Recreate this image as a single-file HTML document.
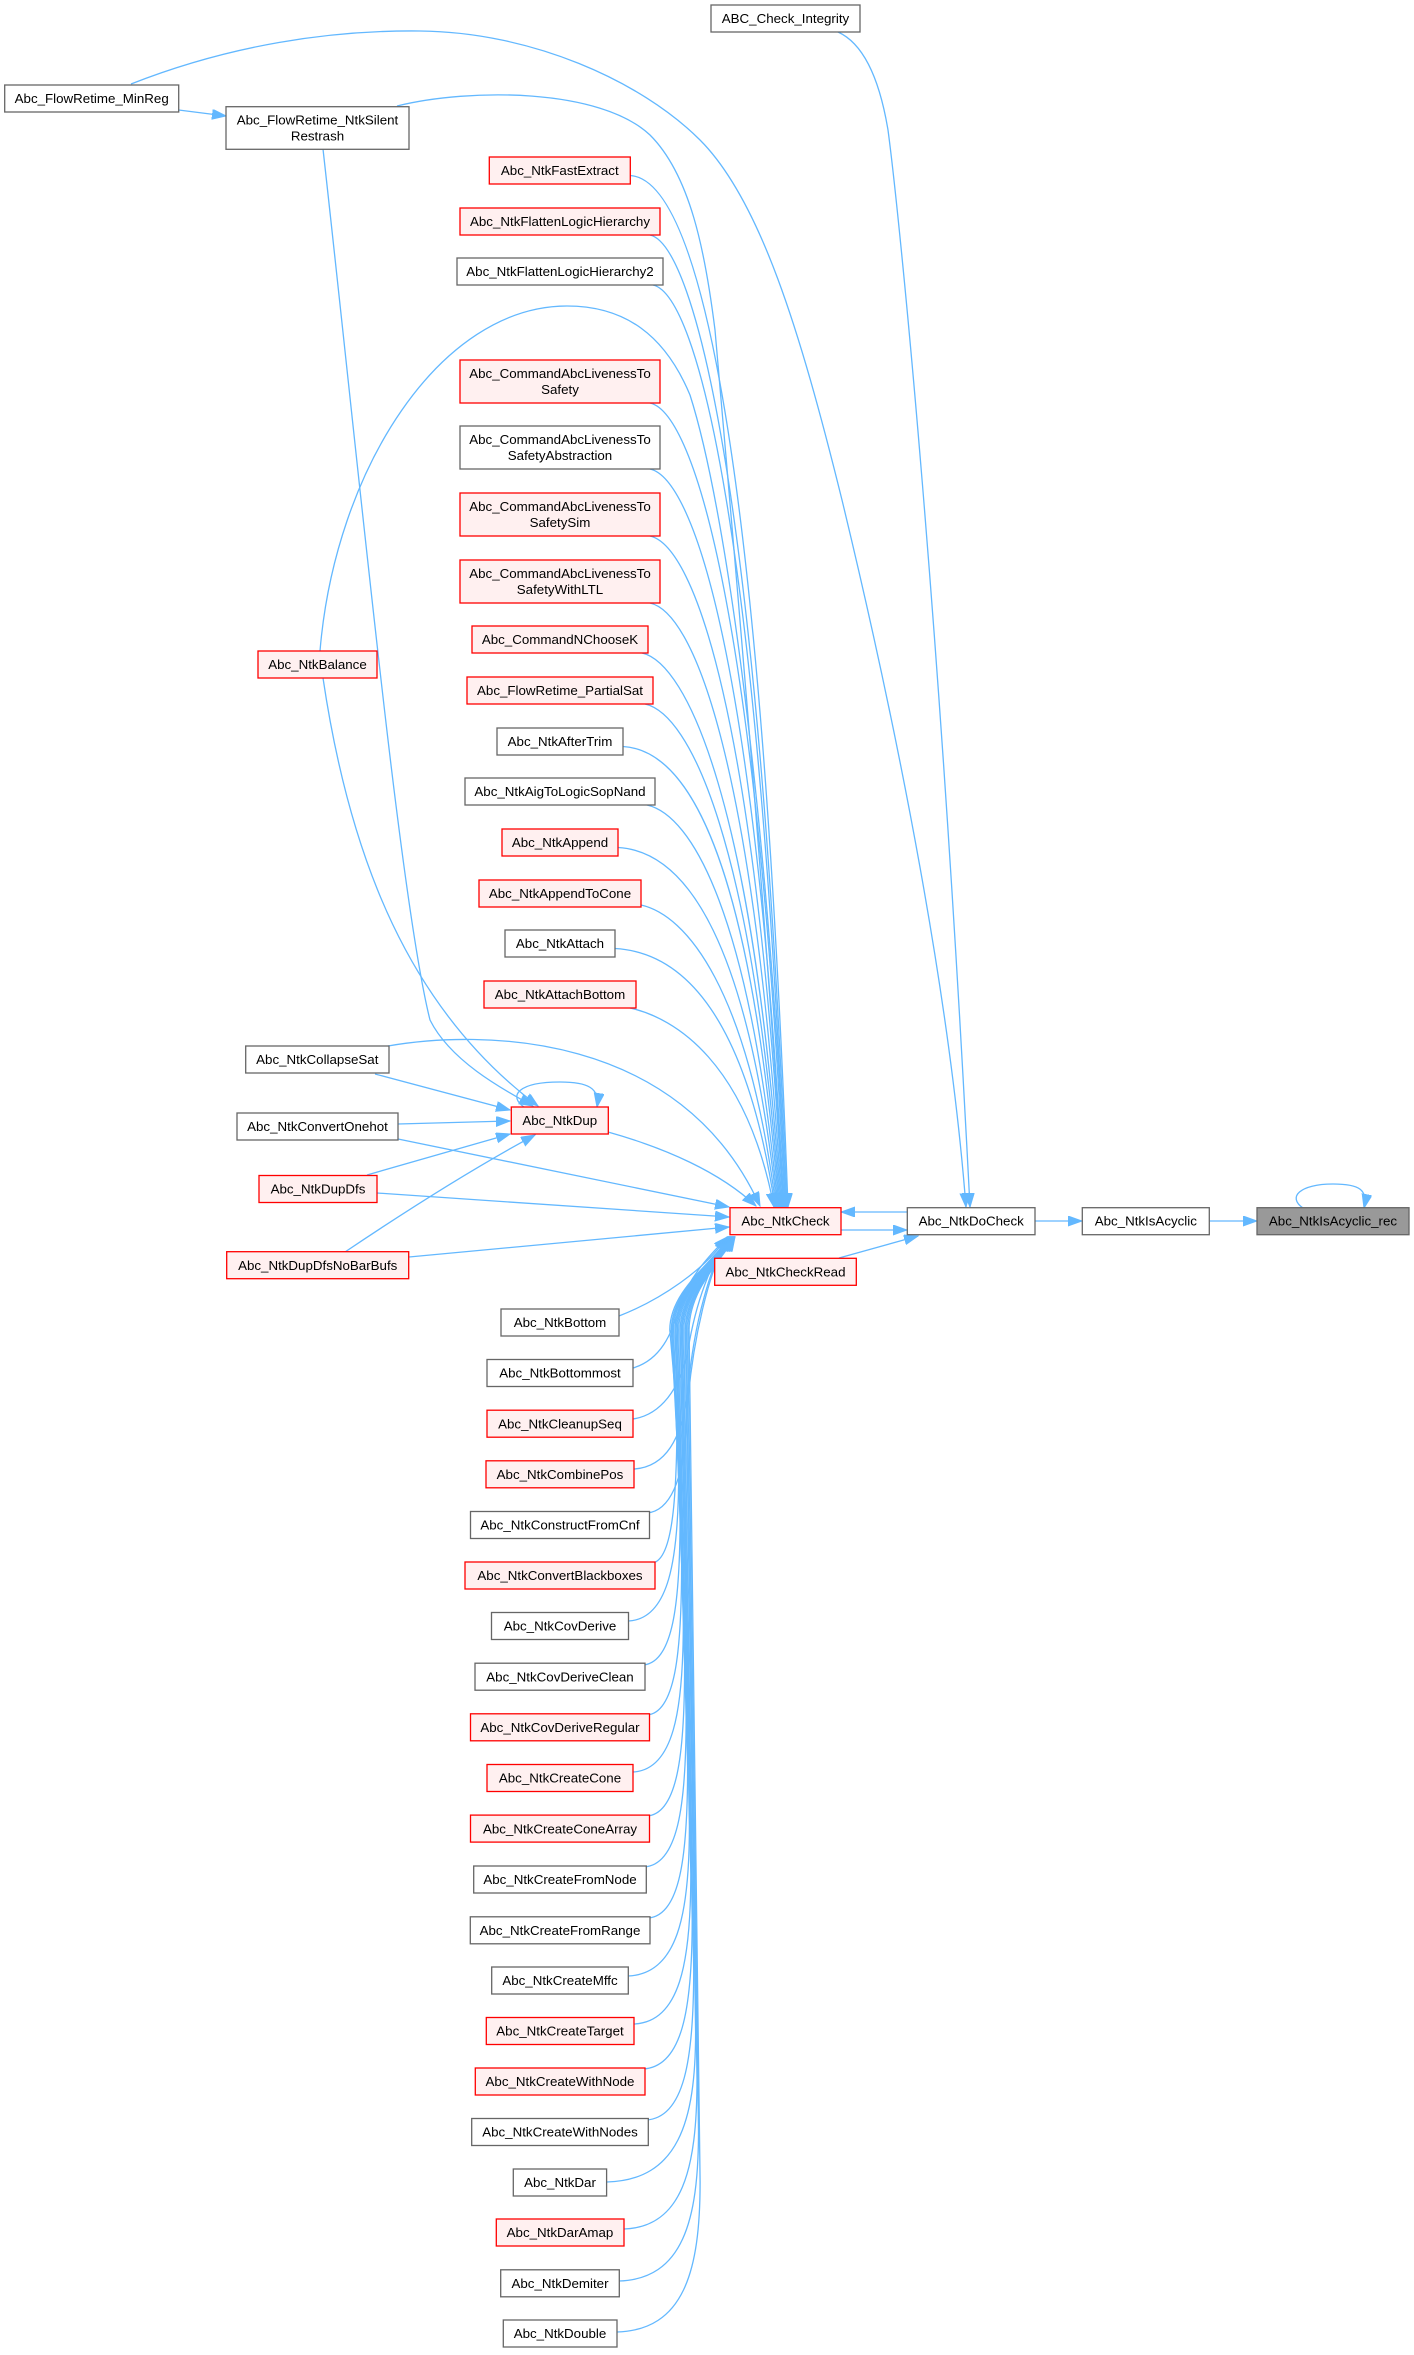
<!DOCTYPE html>
<html>
<head>
<meta charset="utf-8">
<style>
html,body{margin:0;padding:0;background:#fff;}
body{width:1414px;height:2355px;overflow:hidden;}
svg{display:block;}
svg text{font-family:"Liberation Sans",Arial,sans-serif;font-size:13.33px;fill:#000;text-anchor:middle;}
.g{fill:#fff;stroke:#666;stroke-width:1.3;}
.r{fill:#fff0f0;stroke:#f00;stroke-width:1.3;}
.t{fill:#999;stroke:#666;stroke-width:1.3;}
.e{fill:none;stroke:#63b8ff;stroke-width:1.3;marker-end:url(#a);}
</style>
</head>
<body>
<svg width="1414" height="2355" viewBox="0 0 1414 2355" xmlns="http://www.w3.org/2000/svg">
<defs>
<marker id="a" markerWidth="15" markerHeight="11" refX="14" refY="5" orient="auto" markerUnits="userSpaceOnUse">
<path d="M0,0 L14,5 L0,10 z" fill="#63b8ff" stroke="#63b8ff" stroke-width="1"/>
</marker>
</defs>

<!-- ===== EDGES ===== -->
<path class="e" d="M1209,1221 L1257,1221"/>
<path class="e" d="M1303,1208 C1287,1197 1300,1184 1333,1184 C1360,1184 1368,1190 1364,1208"/>
<path class="e" d="M1035,1221 L1082,1221"/>
<path class="e" d="M841,1230 L907,1230"/>
<path class="e" d="M907,1212 L841,1212"/>
<path class="e" d="M839,1258 L918,1236"/>
<path class="e" d="M131,84 C230,45 330,30 420,31 C530,32 640,80 700,140 C760,200 800,330 842,500 C900,740 950,1000 966,1207"/>
<path class="e" d="M838,32 C860,42 878,70 888,130 C900,220 940,620 970,1207"/>
<path class="e" d="M178.6,110 L226,116"/>
<path class="e" d="M397,106 C470,88 600,88 650,135 C690,175 705,250 715,330 C735,560 765,900 784,1207"/>
<path class="e" d="M323,149 C360,480 400,900 430,1020 C450,1060 500,1088 533,1106"/>
<path class="e" d="M320,651 C335,470 440,306 567,306 C625,306 665,335 690,395 C730,520 770,850 786,1207"/>
<path class="e" d="M323,678 C350,860 410,1010 538,1106"/>
<path class="e" d="M524,1107 C508,1096 518,1082 560,1082 C588,1082 600,1088 597,1107"/>
<path class="e" d="M375,1074 L510,1110"/>
<path class="e" d="M398,1124 L510,1121"/>
<path class="e" d="M367,1175 L510,1134"/>
<path class="e" d="M345,1252 C400,1215 470,1170 535,1135"/>
<path class="e" d="M388,1046 C480,1030 680,1030 760,1206"/>
<path class="e" d="M398,1139 L729,1207"/>
<path class="e" d="M377,1193 L729,1217"/>
<path class="e" d="M409,1257 L729,1227"/>
<path class="e" d="M608,1132 C665,1148 720,1172 756,1206"/>
<!-- upper middle -> NtkCheck -->
<path class="e" d="M630,175.5 C700,179.5 760,454 788,1207"/>
<path class="e" d="M650,235 C695,245 759,497 787,1207"/>
<path class="e" d="M653,285 C698,295 758,534 786,1207"/>
<path class="e" d="M650,403 C695,413 757,620 785,1207"/>
<path class="e" d="M650,469 C695,479 756,668 784,1207"/>
<path class="e" d="M650,536 C695,546 755,717 783,1207"/>
<path class="e" d="M650,603 C695,613 754,766 782,1207"/>
<path class="e" d="M642,653 C687,663 753,803 781,1207"/>
<path class="e" d="M645,704 C690,714 752,840 780,1207"/>
<path class="e" d="M623,746.5 C693,750.5 751,871 779,1207"/>
<path class="e" d="M647,805 C692,815 750,914 778,1207"/>
<path class="e" d="M618,847.5 C688,851.5 749,945 777,1207"/>
<path class="e" d="M641,905 C686,915 748,987 776,1207"/>
<path class="e" d="M615,948.5 C685,952.5 747,1019 775,1207"/>
<path class="e" d="M630,1008 C675,1018 746,1062 774,1207"/>
<!-- lower middle -> NtkCheck -->
<path class="e" d="M619,1316 C660,1300 705,1270 727,1237"/>
<path class="e" d="M633,1368 C660,1360 672,1335 680,1305 C690,1275 710,1255 727.4,1237"/>
<path class="e" d="M633,1419 C660,1415 680,1390 688,1350 C696,1300 712,1262 727.8,1237"/>
<path class="e" d="M634,1469 C665,1467 682,1440 688,1390 C694,1320 712,1262 728.2,1237"/>
<path class="e" d="M647,1513 C670,1511 683,1480 686,1430 C690,1340 712,1262 728.6,1237"/>
<path class="e" d="M652,1563 C672,1561 677,1503 677,1413 L669.8,1330 C669.8,1290 714,1262 729,1237"/>
<path class="e" d="M628.5,1621 C668.7,1619 678.7,1561 678.7,1471 L671.3,1330 C671.3,1290 714.4,1262 729.4,1237"/>
<path class="e" d="M643,1665 C672.7,1663 680.1,1605 680.1,1515 L672.4,1330 C672.4,1290 714.8,1262 729.8,1237"/>
<path class="e" d="M647,1715 C674.7,1713 681.6,1655 681.6,1565 L673.6,1330 C673.6,1290 715.2,1262 730.2,1237"/>
<path class="e" d="M633,1772 C673.2,1770 683.3,1712 683.3,1622 L675.1,1330 C675.1,1290 715.6,1262 730.6,1237"/>
<path class="e" d="M647,1816 C677.1,1814 684.6,1756 684.6,1666 L676.2,1330 C676.2,1290 716,1262 731,1237"/>
<path class="e" d="M644,1867 C677.7,1865 686.1,1807 686.1,1717 L677.4,1330 C677.4,1290 716.4,1262 731.4,1237"/>
<path class="e" d="M648,1918 C679.7,1916 687.6,1858 687.6,1768 L678.7,1330 C678.7,1290 716.8,1262 731.8,1237"/>
<path class="e" d="M628,1976 C677.1,1974 689.4,1916 689.4,1826 L680.2,1330 C680.2,1290 717.2,1262 732.2,1237"/>
<path class="e" d="M634,2024 C679.4,2022 690.8,1964 690.8,1874 L681.4,1330 C681.4,1290 717.6,1262 732.6,1237"/>
<path class="e" d="M643,2069 C682.4,2067 692.2,2009 692.2,1919 L682.5,1330 C682.5,1290 718,1262 733,1237"/>
<path class="e" d="M646,2120 C684.2,2118 693.7,2060 693.7,1970 L683.8,1330 C683.8,1290 718.4,1262 733.4,1237"/>
<path class="e" d="M607,2182 C678,2180 695.6,2122 695.6,2032 L685.3,1330 C685.3,1290 718.8,1262 733.8,1237"/>
<path class="e" d="M624,2229 C682.4,2227 697,2169 697,2079 L686.5,1330 C686.5,1290 719.2,1262 734.2,1237"/>
<path class="e" d="M619,2281 C682.6,2279 698.5,2221 698.5,2131 L687.8,1330 C687.8,1290 719.6,1262 734.6,1237"/>
<path class="e" d="M617,2332 C683.5,2330 700.1,2272 700.1,2182 L689.1,1330 C689.1,1290 720,1262 735,1237"/>

<!-- ===== NODES ===== -->
<rect class="g" x="711" y="5" width="149" height="27"/><text x="785.5" y="23.2">ABC_Check_Integrity</text>
<rect class="t" x="1257" y="1207.7" width="152" height="27"/><text x="1333" y="1225.7">Abc_NtkIsAcyclic_rec</text>
<rect class="g" x="1082.3" y="1207.7" width="127" height="27"/><text x="1145.8" y="1225.7">Abc_NtkIsAcyclic</text>
<rect class="g" x="907.3" y="1207.7" width="127.7" height="27"/><text x="971.2" y="1225.7">Abc_NtkDoCheck</text>
<rect class="r" x="730" y="1207.7" width="111" height="27"/><text x="785.5" y="1225.7">Abc_NtkCheck</text>
<rect class="r" x="714.7" y="1258.3" width="141.6" height="27"/><text x="785.5" y="1276.5">Abc_NtkCheckRead</text>

<rect class="g" x="4.7" y="85" width="174" height="27"/><text x="91.7" y="103.2">Abc_FlowRetime_MinReg</text>
<rect class="g" x="226" y="106.7" width="183" height="42.6"/><text x="317.5" y="124.7">Abc_FlowRetime_NtkSilent</text><text x="317.5" y="140.7">Restrash</text>
<rect class="r" x="258" y="651" width="119" height="27"/><text x="317.5" y="669.2">Abc_NtkBalance</text>
<rect class="g" x="245.7" y="1046" width="143.3" height="27"/><text x="317.3" y="1064.2">Abc_NtkCollapseSat</text>
<rect class="g" x="237" y="1113" width="161" height="27"/><text x="317.5" y="1131.2">Abc_NtkConvertOnehot</text>
<rect class="r" x="259" y="1175.5" width="118" height="27"/><text x="318" y="1193.7">Abc_NtkDupDfs</text>
<rect class="r" x="226.7" y="1251.7" width="182" height="27"/><text x="317.7" y="1269.9">Abc_NtkDupDfsNoBarBufs</text>

<rect class="r" x="489.3" y="157" width="141" height="27"/><text x="559.8" y="175.2">Abc_NtkFastExtract</text>
<rect class="r" x="460" y="208" width="200" height="27"/><text x="560" y="226.2">Abc_NtkFlattenLogicHierarchy</text>
<rect class="g" x="457" y="258" width="206" height="27"/><text x="560" y="276.2">Abc_NtkFlattenLogicHierarchy2</text>
<rect class="r" x="460" y="360" width="200" height="43"/><text x="560" y="378.2">Abc_CommandAbcLivenessTo</text><text x="560" y="394.2">Safety</text>
<rect class="g" x="460" y="426" width="200" height="43"/><text x="560" y="444.2">Abc_CommandAbcLivenessTo</text><text x="560" y="460.2">SafetyAbstraction</text>
<rect class="r" x="460" y="493" width="200" height="43"/><text x="560" y="511.2">Abc_CommandAbcLivenessTo</text><text x="560" y="527.2">SafetySim</text>
<rect class="r" x="460" y="560" width="200" height="43"/><text x="560" y="578.2">Abc_CommandAbcLivenessTo</text><text x="560" y="594.2">SafetyWithLTL</text>
<rect class="r" x="472" y="626" width="176" height="27"/><text x="560" y="644.2">Abc_CommandNChooseK</text>
<rect class="r" x="467" y="677" width="186" height="27"/><text x="560" y="695.2">Abc_FlowRetime_PartialSat</text>
<rect class="g" x="497" y="728" width="126" height="27"/><text x="560" y="746.2">Abc_NtkAfterTrim</text>
<rect class="g" x="465" y="778" width="190" height="27"/><text x="560" y="796.2">Abc_NtkAigToLogicSopNand</text>
<rect class="r" x="502" y="829" width="116" height="27"/><text x="560" y="847.2">Abc_NtkAppend</text>
<rect class="r" x="479" y="880" width="162" height="27"/><text x="560" y="898.2">Abc_NtkAppendToCone</text>
<rect class="g" x="505" y="930" width="110" height="27"/><text x="560" y="948.2">Abc_NtkAttach</text>
<rect class="r" x="484" y="981" width="152" height="27"/><text x="560" y="999.2">Abc_NtkAttachBottom</text>
<rect class="r" x="511.3" y="1107" width="97" height="27"/><text x="559.8" y="1125.2">Abc_NtkDup</text>

<rect class="g" x="501" y="1309" width="118" height="27"/><text x="560" y="1327.2">Abc_NtkBottom</text>
<rect class="g" x="487" y="1359.5" width="146" height="27"/><text x="560" y="1377.7">Abc_NtkBottommost</text>
<rect class="r" x="487" y="1410.2" width="146" height="27"/><text x="560" y="1428.4">Abc_NtkCleanupSeq</text>
<rect class="r" x="486" y="1460.8" width="148" height="27"/><text x="560" y="1479">Abc_NtkCombinePos</text>
<rect class="g" x="470.5" y="1511.5" width="179" height="27"/><text x="560" y="1529.7">Abc_NtkConstructFromCnf</text>
<rect class="r" x="465" y="1562" width="190" height="27"/><text x="560" y="1580.2">Abc_NtkConvertBlackboxes</text>
<rect class="g" x="491.5" y="1612.5" width="137" height="27"/><text x="560" y="1630.7">Abc_NtkCovDerive</text>
<rect class="g" x="475" y="1663.2" width="170" height="27"/><text x="560" y="1681.4">Abc_NtkCovDeriveClean</text>
<rect class="r" x="470.5" y="1713.8" width="179" height="27"/><text x="560" y="1732">Abc_NtkCovDeriveRegular</text>
<rect class="r" x="487" y="1764.5" width="146" height="27"/><text x="560" y="1782.7">Abc_NtkCreateCone</text>
<rect class="r" x="470.5" y="1815.1" width="179" height="27"/><text x="560" y="1833.3">Abc_NtkCreateConeArray</text>
<rect class="g" x="473.7" y="1866" width="172.6" height="27"/><text x="560" y="1884.2">Abc_NtkCreateFromNode</text>
<rect class="g" x="470.3" y="1916.8" width="179.7" height="27"/><text x="560" y="1935">Abc_NtkCreateFromRange</text>
<rect class="g" x="491.7" y="1967" width="136.6" height="27"/><text x="560" y="1985.2">Abc_NtkCreateMffc</text>
<rect class="r" x="486.3" y="2017.5" width="147.7" height="27"/><text x="560" y="2035.7">Abc_NtkCreateTarget</text>
<rect class="r" x="475.3" y="2068" width="169.7" height="27"/><text x="560" y="2086.2">Abc_NtkCreateWithNode</text>
<rect class="g" x="471.7" y="2118.5" width="176.6" height="27"/><text x="560" y="2136.7">Abc_NtkCreateWithNodes</text>
<rect class="g" x="513.3" y="2169" width="93.3" height="27"/><text x="560" y="2187.2">Abc_NtkDar</text>
<rect class="r" x="496.3" y="2219" width="127.7" height="27"/><text x="560" y="2237.2">Abc_NtkDarAmap</text>
<rect class="g" x="500.7" y="2269.8" width="118.6" height="27"/><text x="560" y="2288">Abc_NtkDemiter</text>
<rect class="g" x="503.3" y="2320" width="113.7" height="27"/><text x="560" y="2338.2">Abc_NtkDouble</text>
</svg>
</body>
</html>
